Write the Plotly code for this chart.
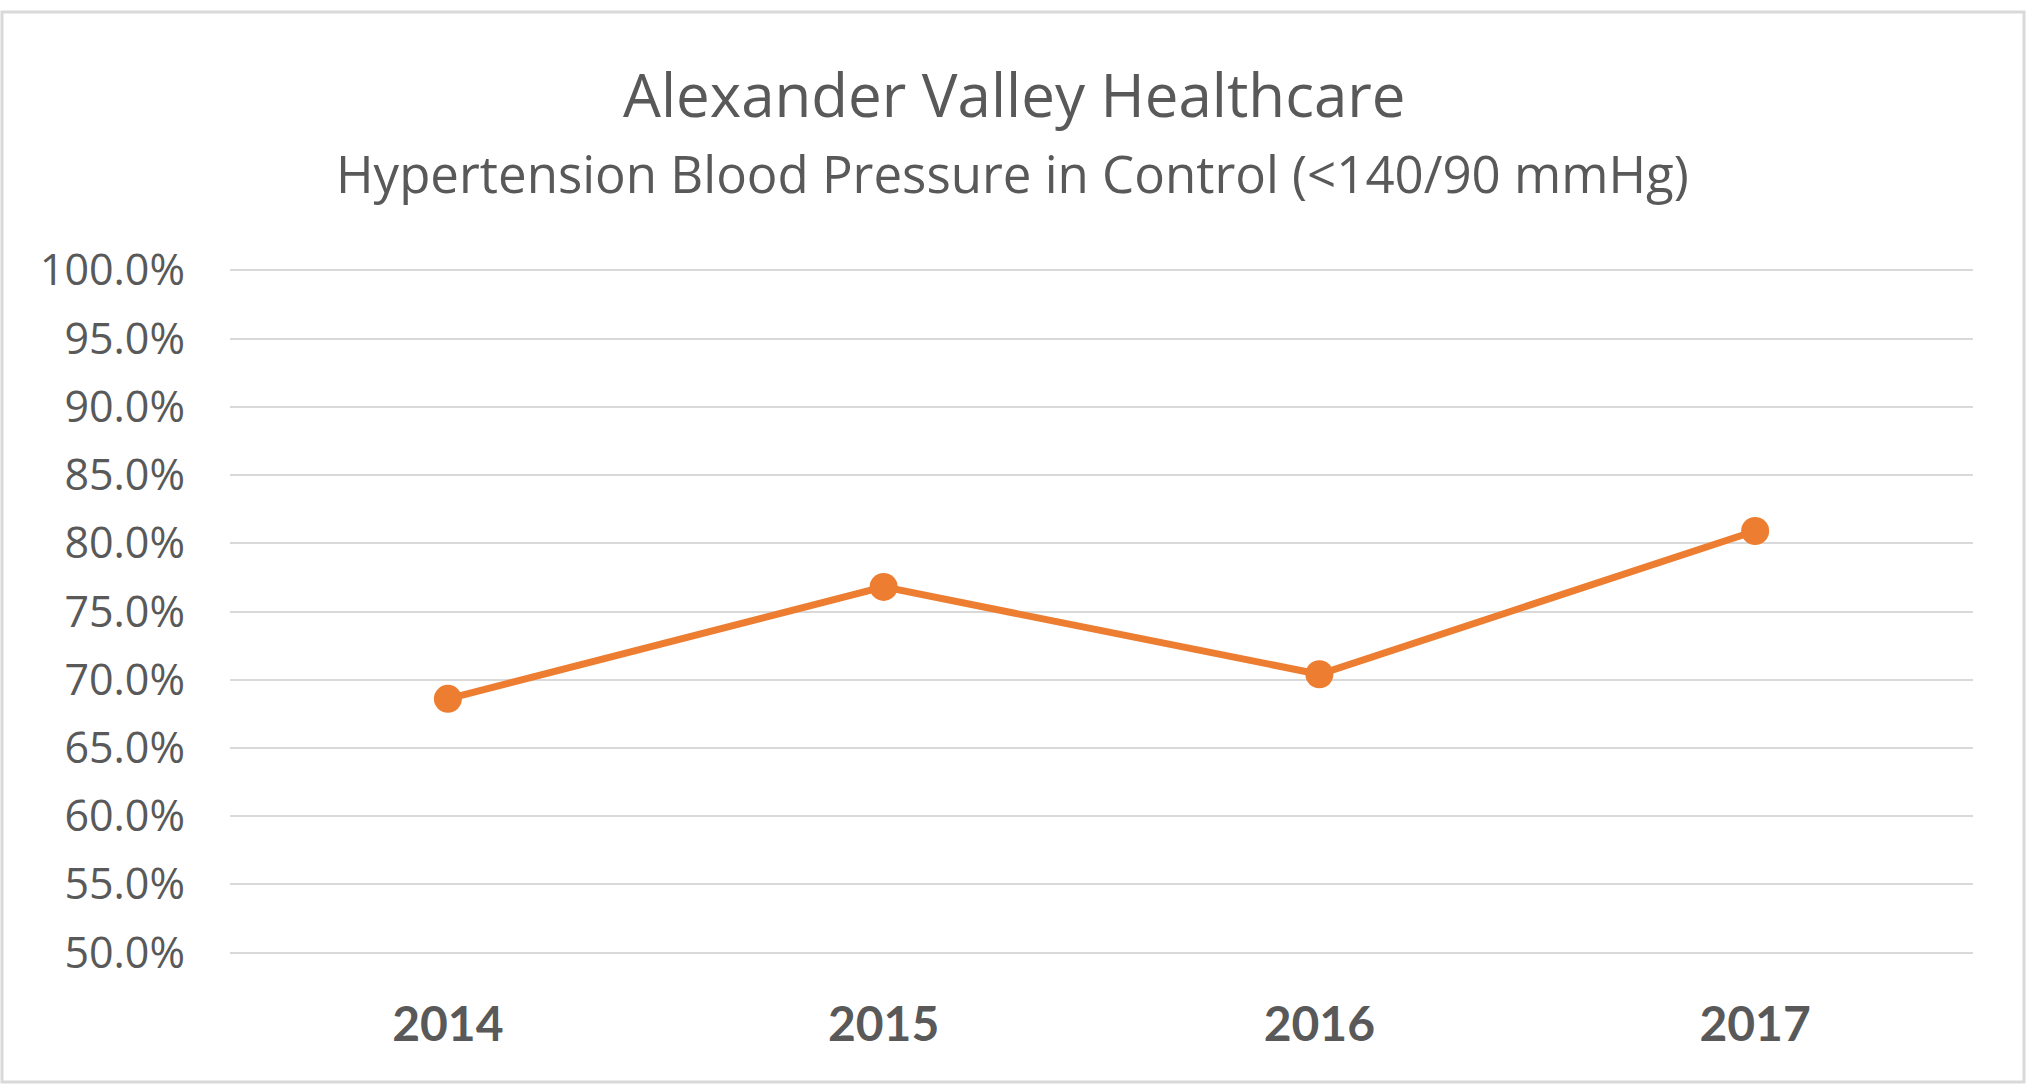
import plotly.graph_objects as go

years = ["2014", "2015", "2016", "2017"]
bp_in_control = [0.686, 0.768, 0.704, 0.809]
y_ticks = [0.50, 0.55, 0.60, 0.65, 0.70, 0.75, 0.80, 0.85, 0.90, 0.95, 1.00]

title_text = "Alexander Valley Healthcare"
subtitle_text = "Hypertension Blood Pressure in Control (<140/90 mmHg)"

W, H = 2028, 1086
ML, MR, MT, MB = 230, 55, 269, 132
PW, PH = W - ML - MR, H - MT - MB
Y_LO, Y_HI = 0.499, 1.001

def px_to_paper_x(px):
    return (px - ML) / PW

def px_to_paper_y(py):
    return (H - MB - py) / PH

TEXT = "#595959"
ORANGE = "#ED7D31"

fig = go.Figure()
fig.add_trace(go.Scatter(
    x=years, y=bp_in_control, mode="lines+markers",
    line=dict(color=ORANGE, width=7),
    marker=dict(color=ORANGE, size=28),
    showlegend=False, hoverinfo="skip",
))

fig.update_layout(
    width=W, height=H,
    margin=dict(l=ML, r=MR, t=MT, b=MB),
    paper_bgcolor="white", plot_bgcolor="white",
    font=dict(family="Open Sans", color=TEXT),
    xaxis=dict(
        type="category", range=[-0.5, 3.5], showgrid=False, zeroline=False,
        showline=False, ticks="",
        tickfont=dict(family="Lato", size=48, color=TEXT, weight="bold"),
        ticklabelstandoff=38,
    ),
    yaxis=dict(
        range=[Y_LO, Y_HI], tickvals=y_ticks, tickformat=".1%",
        showgrid=True, gridcolor="#d9d9d9", gridwidth=2,
        zeroline=False, showline=False, ticks="",
        tickfont=dict(family="Open Sans", size=43, color=TEXT),
        ticklabelstandoff=44,
    ),
    annotations=[
        dict(text=title_text, x=px_to_paper_x(1014), y=px_to_paper_y(94),
             xref="paper", yref="paper", xanchor="center", yanchor="middle",
             showarrow=False, font=dict(family="Open Sans", size=60, color=TEXT)),
        dict(text=subtitle_text, x=px_to_paper_x(1012), y=px_to_paper_y(173),
             xref="paper", yref="paper", xanchor="center", yanchor="middle",
             showarrow=False, font=dict(family="Open Sans", size=51, color=TEXT)),
    ],
    shapes=[
        dict(type="rect", xref="paper", yref="paper",
             x0=px_to_paper_x(2), x1=px_to_paper_x(2024),
             y0=px_to_paper_y(1082), y1=px_to_paper_y(12),
             line=dict(color="#d9d9d9", width=3), fillcolor="rgba(0,0,0,0)",
             layer="below"),
    ],
)

fig.write_html("out.html", config={"displayModeBar": False},
               post_script="document.body.style.margin='0';")
